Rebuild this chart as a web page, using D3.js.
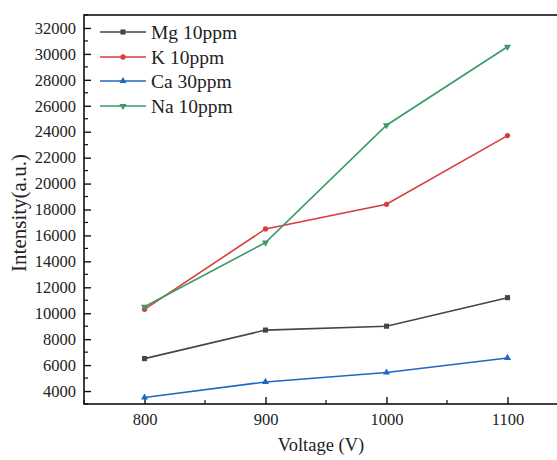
<!DOCTYPE html>
<html><head><meta charset="utf-8">
<script src="https://cdn.jsdelivr.net/npm/d3@7"></script>
<style>body{margin:0;background:#fff}svg{display:block}svg text{font-family:"Liberation Serif","Tinos","Times New Roman",serif}</style>
</head><body><svg id="c" width="557" height="460"></svg>
<script>
const voltages = [800, 900, 1000, 1100];
const mg = [6500, 8700, 9000, 11200];
const k = [10300, 16500, 18400, 23700];
const ca = [3500, 4700, 5430, 6550];
const na = [10500, 15450, 24500, 30550];
const seriesNames = ["Mg 10ppm", "K 10ppm", "Ca 30ppm", "Na 10ppm"];
const xTicks = [800, 900, 1000, 1100];
const yTicks = [4000, 6000, 8000, 10000, 12000, 14000, 16000, 18000, 20000, 22000, 24000, 26000, 28000, 30000, 32000];

const colors = ["#454545", "#d93c3c", "#2168c2", "#3a9a68"];
const shapes = [d3.symbolSquare, d3.symbolCircle, d3.symbolTriangle, "down"];
const allSeries = [mg, k, ca, na];

const svg = d3.select("#c");
const L = 84, T = 15, B = 404;
const x = d3.scaleLinear().domain([750, 1150]).range([L, 568]);
const y = d3.scaleLinear().domain([3000, 33000]).range([B, T]);

// frame
svg.append("rect").attr("x", L).attr("y", T).attr("width", x(1150) - L).attr("height", B - T)
  .attr("fill", "none").attr("stroke", "#111").attr("stroke-width", 1.6);

// y axis
const yAxis = d3.axisLeft(y).tickValues(yTicks).tickSizeInner(-7).tickSizeOuter(0).tickPadding(8).tickFormat(d3.format("d"));
const gy = svg.append("g").attr("transform", `translate(${L},0)`).call(yAxis);
gy.select(".domain").remove();
gy.selectAll("line").attr("stroke", "#111").attr("stroke-width", 1.4);
gy.selectAll("text").attr("font-size", 16.5).attr("fill", "#222");
const yMinor = d3.range(3000, 33001, 1000).filter(v => v % 2000 === 1000);
svg.append("g").selectAll("line").data(yMinor).join("line")
  .attr("x1", L).attr("x2", L + 4).attr("y1", d => y(d)).attr("y2", d => y(d))
  .attr("stroke", "#111").attr("stroke-width", 1.2);

// x axis
const xAxis = d3.axisBottom(x).tickValues(xTicks).tickSizeInner(-7).tickSizeOuter(0).tickPadding(9).tickFormat(d3.format("d"));
const gx = svg.append("g").attr("transform", `translate(0,${B})`).call(xAxis);
gx.select(".domain").remove();
gx.selectAll("line").attr("stroke", "#111").attr("stroke-width", 1.4);
gx.selectAll("text").attr("font-size", 16.5).attr("fill", "#222");
const xMinor = [750, 850, 950, 1050, 1150];
svg.append("g").selectAll("line").data(xMinor).join("line")
  .attr("x1", d => x(d)).attr("x2", d => x(d)).attr("y1", B).attr("y2", B - 4)
  .attr("stroke", "#111").attr("stroke-width", 1.2);

// titles
svg.append("text").attr("x", 321).attr("y", 451).attr("text-anchor", "middle").attr("font-size", 18.5).attr("fill", "#222").text("Voltage (V)");
svg.append("text").attr("transform", "translate(26,213) rotate(-90)").attr("text-anchor", "middle").attr("font-size", 21).attr("fill", "#222").text("Intensity(a.u.)");

function marker(g, i, cx, cy) {
  if (shapes[i] === "down") {
    g.append("path").attr("d", d3.symbol(d3.symbolTriangle, 22)()).attr("transform", `translate(${cx},${cy}) rotate(180)`).attr("fill", colors[i]);
  } else {
    const size = shapes[i] === d3.symbolSquare ? 26 : 22;
    g.append("path").attr("d", d3.symbol(shapes[i], size)()).attr("transform", `translate(${cx},${cy})`).attr("fill", colors[i]);
  }
}

const line = d3.line().x((d, j) => x(voltages[j])).y(d => y(d));
allSeries.forEach((s, i) => {
  const g = svg.append("g");
  g.append("path").attr("d", line(s)).attr("fill", "none").attr("stroke", colors[i]).attr("stroke-width", 1.6);
  s.forEach((v, j) => marker(g, i, x(voltages[j]), y(v)));
});

// legend
const legY = [32, 57, 81, 106];
seriesNames.forEach((n, i) => {
  const g = svg.append("g");
  g.append("line").attr("x1", 100).attr("x2", 146).attr("y1", legY[i]).attr("y2", legY[i]).attr("stroke", colors[i]).attr("stroke-width", 1.6);
  marker(g, i, 123, legY[i]);
  g.append("text").attr("x", 151).attr("y", legY[i] + 6.5).attr("font-size", 19.5).attr("fill", "#222").text(n);
});

svg.selectAll("text").attr("font-family", "Liberation Serif");
</script></body></html>
